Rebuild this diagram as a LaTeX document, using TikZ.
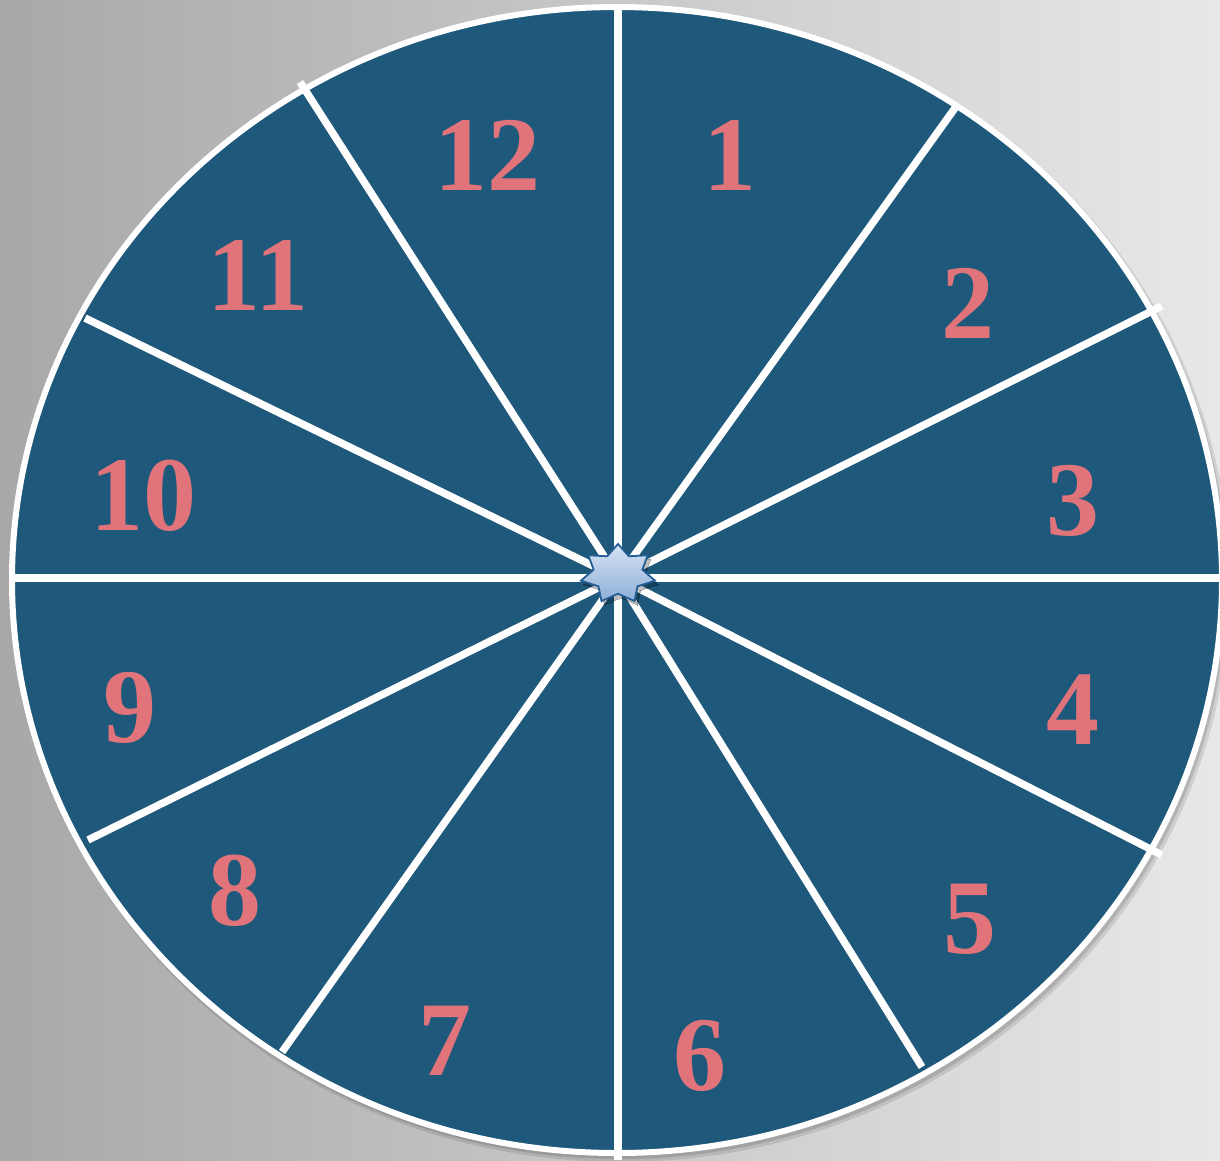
\documentclass[tikz,border=0pt]{standalone}
\usepackage{fontspec}
\setmainfont{Liberation Serif}
\definecolor{bgleft}{HTML}{A8A8A8}
\definecolor{bgright}{HTML}{E8E8E8}
\definecolor{wheel}{HTML}{1E587B}
\definecolor{numcol}{HTML}{E0747A}
\definecolor{startop}{HTML}{D6E3F4}
\definecolor{starbot}{HTML}{8EAFD8}
\definecolor{starline}{HTML}{245E94}
\tikzset{
  num/.style={anchor=base, text=numcol, font=\fontsize{106}{106}\selectfont\bfseries, inner sep=0pt},
  spoke/.style={draw=white, line width=7.5pt},
  spokeshadow/.style={draw=black, opacity=0.25, line width=7pt},
}
\begin{document}
\begin{tikzpicture}[x=1pt,y=-1pt]
\useasboundingbox (0,0) rectangle (1220,1160);
\shade[left color=bgleft, right color=bgright] (0,0) rectangle (1220,1160);
% wheel shadow
\fill[black, opacity=0.10] (621,585) ellipse [x radius=609, y radius=577];
\fill[black, opacity=0.12] (620,584) ellipse [x radius=607, y radius=575];
\fill[wheel] (617,580) ellipse [x radius=605, y radius=573];
\coordinate (c) at (618,578);
\coordinate (t) at (618,8);
\coordinate (b) at (618,1160);
\coordinate (l) at (12,578);
\coordinate (r) at (1222,578);
\coordinate (e12) at (955,108);
\coordinate (e23) at (1162,306);
\coordinate (e45) at (1162,855);
\coordinate (e56) at (922,1067);
\coordinate (e78) at (282,1052);
\coordinate (e89) at (88,840);
\coordinate (e1011) at (85,318);
\coordinate (e1112) at (300,82);
% spoke shadows
\begin{scope}[shift={(3,4)}]
\foreach \e in {t,b,l,r,e12,e23,e45,e56,e78,e89,e1011,e1112}
  \draw[spokeshadow] (c) -- (\e);
\end{scope}
% rim
\draw[white, line width=6pt] (617,580) ellipse [x radius=605, y radius=573];
% spokes
\draw[spoke] (t) -- (b);
\draw[spoke] (l) -- (r);
\foreach \e in {e12,e23,e45,e56,e78,e89,e1011,e1112}
  \draw[spoke] (c) -- (\e);
% numbers
\node[num] (n1) at (730,190) {1};
\node[num] (n2) at (968,338) {2};
\node[num] (n3) at (1073,535) {3};
\node[num] (n4) at (1073,744) {4};
\node[num] (n5) at (970,953) {5};
\node[num] (n6) at (700,1090) {6};
\node[num] (n7) at (445,1075) {7};
\node[num] (n8) at (235,925) {8};
\node[num] (n9) at (130,742) {9};
\node[num] (n10) at (143,530) {10};
\node[num] (n11) at (258,310) {11};
\node[num] (n12) at (487,190) {12};
% center star
\draw[black, opacity=0.25, fill=black, line width=0pt, shift={(3,4)}]
  plot[samples at={0,...,14}] ({618+(38-13*mod(\x,2))*cos(90+\x*360/14)}, {574-(30-10.3*mod(\x,2))*sin(90+\x*360/14)}) -- cycle;
\draw[starline, line width=1.8pt, line join=miter, top color=startop, bottom color=starbot]
  plot[samples at={0,...,14}] ({618+(38-13*mod(\x,2))*cos(90+\x*360/14)}, {574-(30-10.3*mod(\x,2))*sin(90+\x*360/14)}) -- cycle;
\end{tikzpicture}
\end{document}
